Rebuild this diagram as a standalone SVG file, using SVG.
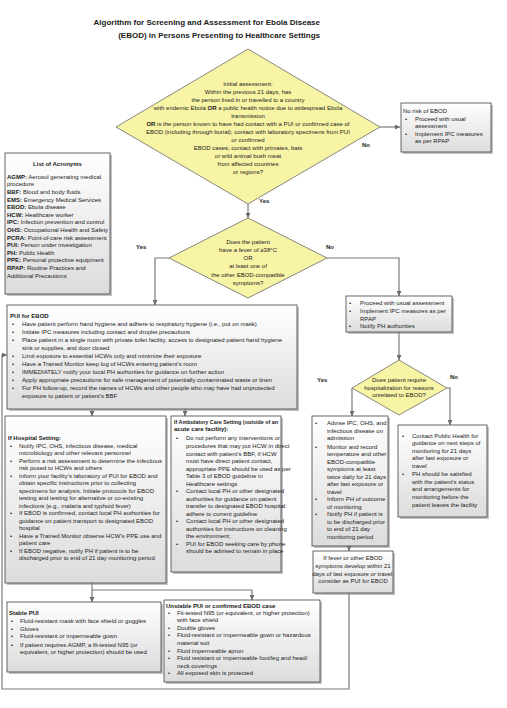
<svg xmlns="http://www.w3.org/2000/svg" width="507" height="708" viewBox="0 0 507 708">
<defs>
<linearGradient id="g" x1="0" y1="0" x2="0" y2="1"><stop offset="0" stop-color="#ffffff"/><stop offset="1" stop-color="#dcdcdc"/></linearGradient>
<marker id="ah" viewBox="0 0 10 10" refX="10" refY="5" markerWidth="5" markerHeight="5" orient="auto" markerUnits="userSpaceOnUse"><path d="M0,0 L10,5 L0,10 z" fill="#6a6a6a"/></marker>
<style>
text{font-family:"Liberation Sans",Arial,sans-serif;font-size:6px;fill:#1a1a1a}
.b{font-weight:bold}
.c{text-anchor:middle}
.ti{font-size:8px;font-weight:bold;text-anchor:end}
.box{fill:url(#g);stroke:#404040;stroke-width:0.8}
.sh{fill:#9a9a9a;opacity:0.6}
.dia{fill:#f8f4a6;stroke:#6a6a6a;stroke-width:0.8}
.ln{fill:none;stroke:#7a7a7a;stroke-width:1.2}
.lb{font-weight:bold;font-size:6px}
</style>
</defs>
<rect width="507" height="708" fill="#ffffff"/>

<g id="title">
<text class="ti" x="320" y="25">Algorithm for Screening and Assessment for Ebola Disease</text>
<text class="ti" x="320" y="38">(EBOD) in Persons Presenting to Healthcare Settings</text>
</g>

<g id="connectors">
<path class="ln" d="M380,127 H400" marker-end="url(#ah)"/>
<path class="ln" d="M248,204 V218" marker-end="url(#ah)"/>
<path class="ln" d="M169,258 H155 V305" marker-end="url(#ah)"/>
<path class="ln" d="M327,258 H399 V296" marker-end="url(#ah)"/>
<path class="ln" d="M399,332 V360" marker-end="url(#ah)"/>
<path class="ln" d="M352,388 V416" marker-end="url(#ah)"/>
<path class="ln" d="M447,388 H450 V425" marker-end="url(#ah)"/>
<path class="ln" d="M92,409 V416" marker-end="url(#ah)"/>
<path class="ln" d="M185,409 V416" marker-end="url(#ah)"/>
<path class="ln" d="M349,546 V551" marker-end="url(#ah)"/>
<path class="ln" d="M92,583 V602" marker-end="url(#ah)"/>
<path class="ln" d="M92,590 H252 V600" marker-end="url(#ah)"/>
<path class="ln" d="M349,593 V689 H2 V355 H7" marker-end="url(#ah)"/>
<text class="lb" x="362" y="147">No</text>
<text class="lb" x="259" y="203">Yes</text>
<text class="lb" x="136" y="249">Yes</text>
<text class="lb" x="326" y="249">No</text>
<text class="lb" x="317" y="382">Yes</text>
<text class="lb" x="450" y="379">No</text>
</g>

<g id="initial-assessment">
<polygon class="dia" points="248,49 380,127 248,204 116,127"/>
<text class="c" x="248" y="86">Initial assessment:</text>
<text class="c" x="248" y="94">Within the previous 21 days, has</text>
<text class="c" x="248" y="101.9">the person lived in or travelled to a country</text>
<text class="c" x="248" y="109.9">with endemic Ebola <tspan class="b">OR</tspan> a public health notice due to widespread Ebola</text>
<text class="c" x="248" y="117.9">transmission</text>
<text class="c" x="248" y="125.9"><tspan class="b">OR</tspan> is the person known to have had contact with a PUI or confirmed case of</text>
<text class="c" x="248" y="133.8">EBOD (including through burial); contact with laboratory specimens from PUI</text>
<text class="c" x="248" y="141.8">or confirmed</text>
<text class="c" x="248" y="149.8">EBOD cases; contact with primates, bats</text>
<text class="c" x="248" y="157.7">or wild animal bush meat</text>
<text class="c" x="248" y="165.7">from affected countries</text>
<text class="c" x="248" y="173.7">or regions?</text>
</g>

<g id="no-risk">
<rect class="sh" x="403" y="105" width="90" height="49"/>
<rect class="box" x="401" y="103" width="90" height="49"/>
<text x="403" y="112.7">No risk of EBOD</text>
<text x="405" y="121">•</text><text x="415" y="121">Proceed with usual</text>
<text x="415" y="128">assessment</text>
<text x="405" y="136">•</text><text x="415" y="136">Implement IPC measures</text>
<text x="415" y="143">as per RPAP</text>
</g>

<g id="acronyms">
<rect class="sh" x="7" y="155" width="105" height="141"/>
<rect class="box" x="5" y="153" width="105" height="141"/>
<text class="c b" x="57.5" y="166">List of Acronyms</text>
<text x="7" y="178.7"><tspan class="b">AGMP:</tspan> Aerosol generating medical</text>
<text x="7" y="186.3">procedure</text>
<text x="7" y="193.9"><tspan class="b">BBF:</tspan> Blood and body fluids</text>
<text x="7" y="201.5"><tspan class="b">EMS:</tspan> Emergency Medical Services</text>
<text x="7" y="209.1"><tspan class="b">EBOD:</tspan> Ebola disease</text>
<text x="7" y="216.7"><tspan class="b">HCW:</tspan> Healthcare worker</text>
<text x="7" y="224.3"><tspan class="b">IPC:</tspan> Infection prevention and control</text>
<text x="7" y="231.9"><tspan class="b">OHS:</tspan> Occupational Health and Safety</text>
<text x="7" y="239.5"><tspan class="b">PCRA:</tspan> Point-of-care risk assessment</text>
<text x="7" y="247.1"><tspan class="b">PUI:</tspan> Person under investigation</text>
<text x="7" y="254.7"><tspan class="b">PH:</tspan> Public Health</text>
<text x="7" y="262.3"><tspan class="b">PPE:</tspan> Personal protective equipment</text>
<text x="7" y="269.9"><tspan class="b">RPAP:</tspan> Routine Practices and</text>
<text x="7" y="277.5">Additional Precautions</text>
</g>

<g id="fever-check">
<polygon class="dia" points="248,218 327,258 248,298 169,258"/>
<text class="c" x="248" y="243.7">Does the patient</text>
<text class="c" x="248" y="251.9">have a fever of ≥38°C</text>
<text class="c" x="248" y="260.1">OR</text>
<text class="c" x="248" y="268.3">at least one of</text>
<text class="c" x="248" y="276.5">the other EBOD-compatible</text>
<text class="c" x="248" y="284.7">symptoms?</text>
</g>

<g id="pui">
<rect class="sh" x="9" y="307" width="290" height="104"/>
<rect class="box" x="7" y="305" width="290" height="104"/>
<text class="b" x="10" y="317.5">PUI for EBOD</text>
<text x="12" y="325.7">•</text><text x="22" y="325.7">Have patient perform hand hygiene and adhere to respiratory hygiene (i.e., put on mask)</text>
<text x="12" y="333.7">•</text><text x="22" y="333.7">Initiate IPC measures including contact and droplet precautions</text>
<text x="12" y="341.7">•</text><text x="22" y="341.7">Place patient in a single room with private toilet facility, access to designated patient hand hygiene</text>
<text x="22" y="349.7">sink or supplies, and door closed</text>
<text x="12" y="357.7">•</text><text x="22" y="357.7">Limit exposure to essential HCWs only and minimize their exposure</text>
<text x="12" y="365.7">•</text><text x="22" y="365.7">Have a Trained Monitor keep log of HCWs entering patient’s room</text>
<text x="12" y="373.7">•</text><text x="22" y="373.7">IMMEDIATELY notify your local PH authorities for guidance on further action</text>
<text x="12" y="381.7">•</text><text x="22" y="381.7">Apply appropriate precautions for safe management of potentially contaminated waste or linen</text>
<text x="12" y="389.7">•</text><text x="22" y="389.7">For PH follow-up, record the names of HCWs and other people who may have had unprotected</text>
<text x="22" y="397.5">exposure to patient or patient’s BBF</text>
</g>

<g id="usual-assessment">
<rect class="sh" x="348" y="298" width="106" height="36"/>
<rect class="box" x="346" y="296" width="106" height="36"/>
<text x="349" y="305">•</text><text x="360" y="305">Proceed with usual assessment</text>
<text x="349" y="313">•</text><text x="360" y="313">Implement IPC measures as per</text>
<text x="360" y="320.5">RPAP</text>
<text x="349" y="328">•</text><text x="360" y="328">Notify PH authorities</text>
</g>

<g id="hospitalization-check">
<polygon class="dia" points="399,360 447,388 399,415 352,388"/>
<text class="c" x="399" y="382">Does patient require</text>
<text class="c" x="399" y="389.7">hospitalization for reasons</text>
<text class="c" x="399" y="397.3">unrelated to EBOD?</text>
</g>

<g id="hospital-setting">
<rect class="sh" x="7" y="418" width="161" height="167"/>
<rect class="box" x="5" y="416" width="161" height="167"/>
<text class="b" x="8" y="440">If Hospital Setting:</text>
<text x="10" y="447.5">•</text><text x="19" y="447.5">Notify IPC, OHS, infectious disease, medical</text>
<text x="19" y="455">microbiology and other relevant personnel</text>
<text x="10" y="462.5">•</text><text x="19" y="462.5">Perform a risk assessment to determine the infectious</text>
<text x="19" y="470">risk posed to HCWs and others</text>
<text x="10" y="477.5">•</text><text x="19" y="477.5">Inform your facility’s laboratory of PUI for EBOD and</text>
<text x="19" y="485">obtain specific instructions prior to collecting</text>
<text x="19" y="492.5">specimens for analysis. Initiate protocols for EBOD</text>
<text x="19" y="500">testing and testing for alternative or co-existing</text>
<text x="19" y="507.5">infections (e.g., malaria and typhoid fever)</text>
<text x="10" y="515">•</text><text x="19" y="515">If EBOD is confirmed, contact local PH authorities for</text>
<text x="19" y="522.5">guidance on patient transport to designated EBOD</text>
<text x="19" y="530">hospital</text>
<text x="10" y="537.5">•</text><text x="19" y="537.5">Have a Trained Monitor observe HCW’s PPE use and</text>
<text x="19" y="545">patient care</text>
<text x="10" y="552.5">•</text><text x="19" y="552.5">If EBOD negative, notify PH if patient is to be</text>
<text x="19" y="560">discharged prior to end of 21 day monitoring period</text>
</g>

<g id="ambulatory-setting">
<rect class="sh" x="173" y="418" width="110" height="156"/>
<rect class="box" x="171" y="416" width="110" height="156"/>
<text class="b" x="174" y="423.7" textLength="104" lengthAdjust="spacingAndGlyphs">If Ambulatory Care Setting (outside of an</text>
<text class="b" x="174" y="431.3">acute care facility):</text>
<text x="176" y="440.3">•</text><text x="186" y="440.3">Do not perform any interventions or</text>
<text x="186" y="448">procedures that may put HCW in direct</text>
<text x="186" y="455.5">contact with patient’s BBF, if HCW</text>
<text x="186" y="463">must have direct patient contact,</text>
<text x="186" y="470.5">appropriate PPE should be used as per</text>
<text x="186" y="478">Table 3 of EBOD guideline in</text>
<text x="186" y="485.5">Healthcare settings</text>
<text x="176" y="493">•</text><text x="186" y="493">Contact local PH or other designated</text>
<text x="186" y="500.5">authorities for guidance on patient</text>
<text x="186" y="508">transfer to designated EBOD hospital;</text>
<text x="186" y="515.5">adhere to current guideline</text>
<text x="176" y="523">•</text><text x="186" y="523">Contact local PH or other designated</text>
<text x="186" y="530.5">authorities for instructions on cleaning</text>
<text x="186" y="538">the environment;</text>
<text x="176" y="545.5">•</text><text x="186" y="545.5">PUI for EBOD seeking care by phone</text>
<text x="186" y="553">should be advised to remain in place</text>
</g>

<g id="advise">
<rect class="sh" x="314" y="418" width="76" height="130"/>
<rect class="box" x="312" y="416" width="76" height="130"/>
<text x="315" y="425">•</text><text x="327" y="425">Advise IPC, OHS, and</text>
<text x="327" y="432.5">infectious disease on</text>
<text x="327" y="440">admission</text>
<text x="315" y="448.5">•</text><text x="327" y="448.5">Monitor and record</text>
<text x="327" y="456">temperature and other</text>
<text x="327" y="463.5">EBOD-compatible</text>
<text x="327" y="471">symptoms at least</text>
<text x="327" y="478.5">twice daily for 21 days</text>
<text x="327" y="486">after last exposure or</text>
<text x="327" y="493.5">travel</text>
<text x="315" y="501">•</text><text x="327" y="501">Inform PH of outcome</text>
<text x="327" y="508.5">of monitoring</text>
<text x="315" y="516">•</text><text x="327" y="516">Notify PH if patient is</text>
<text x="327" y="523.5">to be discharged prior</text>
<text x="327" y="531">to end of 21 day</text>
<text x="327" y="538.5">monitoring period</text>
</g>

<g id="contact-ph">
<rect class="sh" x="400" y="427" width="89" height="92"/>
<rect class="box" x="398" y="425" width="89" height="92"/>
<text x="402" y="437.5">•</text><text x="412" y="437.5">Contact Public Health for</text>
<text x="412" y="445">guidance on next steps of</text>
<text x="412" y="452.7">monitoring for 21 days</text>
<text x="412" y="460.3">after last exposure or</text>
<text x="412" y="467.7">travel</text>
<text x="402" y="476.3">•</text><text x="412" y="476.3">PH should be satisfied</text>
<text x="412" y="483.7">with the patient’s status</text>
<text x="412" y="491.3">and arrangements for</text>
<text x="412" y="498.7">monitoring before the</text>
<text x="412" y="507">patient leaves the facility</text>
</g>

<g id="if-fever">
<rect class="sh" x="315" y="553" width="80" height="42"/>
<rect class="box" x="313" y="551" width="80" height="42"/>
<text class="c" x="353" y="560">If fever or other EBOD</text>
<text class="c" x="353" y="568">symptoms develop within 21</text>
<text class="c" x="353" y="575.5">days of last exposure or travel,</text>
<text class="c" x="353" y="583">consider as PUI for EBOD</text>
</g>

<g id="stable-pui">
<rect class="sh" x="9" y="604" width="154" height="70"/>
<rect class="box" x="7" y="602" width="154" height="70"/>
<text class="b" x="9" y="615">Stable PUI</text>
<text x="11" y="623">•</text><text x="20" y="623">Fluid-resistant mask with face shield or goggles</text>
<text x="11" y="630.5">•</text><text x="20" y="630.5">Gloves</text>
<text x="11" y="638">•</text><text x="20" y="638">Fluid-resistant or impermeable gown</text>
<text x="11" y="646.5">•</text><text x="20" y="646.5">If patient requires AGMP, a fit-tested N95 (or</text>
<text x="20" y="654">equivalent, or higher protection) should be used</text>
</g>

<g id="unstable-pui">
<rect class="sh" x="166" y="602" width="156" height="82"/>
<rect class="box" x="164" y="600" width="156" height="82"/>
<text class="b" x="166" y="607.5">Unstable PUI or confirmed EBOD case</text>
<text x="168" y="615">•</text><text x="177" y="615">Fit-tested N95 (or equivalent, or higher protection)</text>
<text x="177" y="622">with face shield</text>
<text x="168" y="629.5">•</text><text x="177" y="629.5">Double gloves</text>
<text x="168" y="637">•</text><text x="177" y="637">Fluid-resistant or impermeable gown or hazardous</text>
<text x="177" y="644.5">material suit</text>
<text x="168" y="652.5">•</text><text x="177" y="652.5">Fluid impermeable apron</text>
<text x="168" y="660">•</text><text x="177" y="660">Fluid resistant or impermeable foot/leg and head/</text>
<text x="177" y="667.5">neck coverings</text>
<text x="168" y="675">•</text><text x="177" y="675">All exposed skin is protected</text>
</g>
</svg>
